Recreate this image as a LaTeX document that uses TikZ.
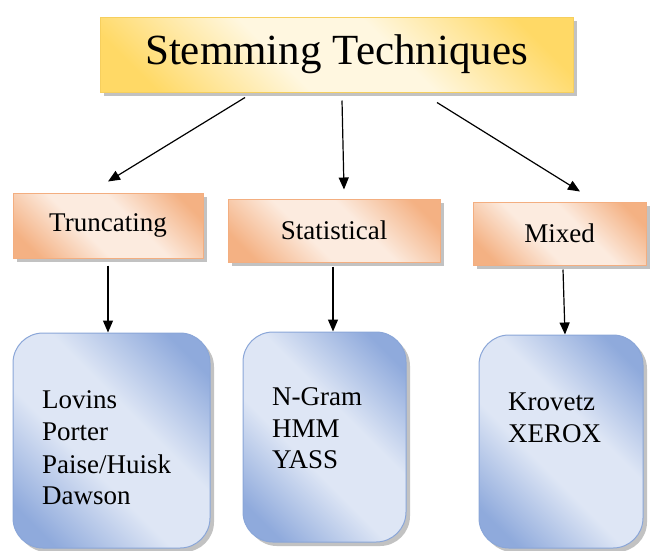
\documentclass[tikz,border=0pt]{standalone}
\usepackage{fontspec}
\setmainfont{Liberation Serif}
\usetikzlibrary{arrows.meta,shadows}
\definecolor{goldD}{HTML}{FFD966}
\definecolor{goldL}{HTML}{FFF7E0}
\definecolor{goldB}{HTML}{F6CF5E}
\definecolor{orgD}{HTML}{F4B183}
\definecolor{orgL}{HTML}{FCEBDF}
\definecolor{orgB}{HTML}{F3AE80}
\definecolor{bluD}{HTML}{8FAADC}
\definecolor{bluL}{HTML}{DEE6F5}
\definecolor{bluB}{HTML}{8AA6D8}
\pgfdeclareverticalshading{goldshade}{100bp}{color(0bp)=(goldD); color(22bp)=(goldD); color(42bp)=(goldL); color(58bp)=(goldL); color(78bp)=(goldD); color(100bp)=(goldD)}
\pgfdeclareverticalshading{orgshade}{100bp}{color(0bp)=(orgD); color(22bp)=(orgD); color(42bp)=(orgL); color(58bp)=(orgL); color(78bp)=(orgD); color(100bp)=(orgD)}
\pgfdeclareverticalshading{blushade}{100bp}{color(0bp)=(bluD); color(22bp)=(bluD); color(42bp)=(bluL); color(58bp)=(bluL); color(78bp)=(bluD); color(100bp)=(bluD)}
\tikzset{
  shadowed/.style={drop shadow={shadow xshift=4pt, shadow yshift=-4pt, fill=black!40, opacity=0.6}},
  titlebox/.style={shadowed, draw=goldB, line width=1pt, shading=goldshade, shading angle=-45,
    inner sep=0pt, minimum width=473pt, minimum height=75pt, font=\fontsize{43}{50}\selectfont},
  catbox/.style={shadowed, draw=orgB, line width=1pt, shading=orgshade, shading angle=-45,
    inner sep=0pt, font=\fontsize{27}{32}\selectfont},
  listbox/.style={shadowed, draw=bluB, line width=1pt, rounded corners=30pt, shading=blushade, shading angle=-45,
    inner sep=0pt},
  item/.style={anchor=base west, inner sep=0pt, font=\fontsize{27}{32}\selectfont},
  arr/.style={-{Triangle[length=12pt,width=10pt]}, line width=1.2pt, black}
}
\begin{document}
\begin{tikzpicture}[x=1pt,y=-1pt]
\useasboundingbox (0,0) rectangle (652,550);
\node[titlebox] (top) at (336.5,54.5) {Stemming Techniques};
\node[catbox, minimum width=190pt, minimum height=65pt] (trunc) at (108,225.5) {Truncating};
\node[catbox, minimum width=212pt, minimum height=63pt] (stat) at (334,230.5) {Statistical};
\node[catbox, minimum width=173pt, minimum height=63pt] (mixed) at (559.5,233.5) {Mixed};
\node[listbox, minimum width=197pt, minimum height=215pt] (b1) at (111.5,440.5) {};
\node[listbox, minimum width=163pt, minimum height=210pt] (b2) at (324.5,437) {};
\node[listbox, minimum width=164pt, minimum height=213pt] (b3) at (561,441.5) {};
\node[item] (l1) at (42,408) {Lovins};
\node[item] (l2) at (42,440) {Porter};
\node[item] (l3) at (42,473) {Paise/Huisk};
\node[item] (l4) at (42,504) {Dawson};
\node[item] (m1) at (272,405) {N-Gram};
\node[item] (m2) at (272,437) {HMM};
\node[item] (m3) at (272,468) {YASS};
\node[item] (n1) at (508,410) {Krovetz};
\node[item] (n2) at (508,442) {XEROX};
\draw[arr] ([xshift=-91.5pt,yshift=-5pt]top.south) -- ([yshift=11pt]trunc.north);
\draw[arr] ([xshift=5.5pt,yshift=-8pt]top.south) -- ([xshift=10pt,yshift=9pt]stat.north);
\draw[arr] ([xshift=100.5pt,yshift=-10pt]top.south) -- ([xshift=20.5pt,yshift=10pt]mixed.north);
\draw[arr] ([yshift=-7pt]trunc.south) -- ([xshift=-3.5pt]b1.north);
\draw[arr] ([xshift=-1pt,yshift=-4pt]stat.south) -- ([xshift=8.5pt]b2.north);
\draw[arr] ([xshift=3.5pt,yshift=-4pt]mixed.south) -- ([xshift=4pt]b3.north);
\end{tikzpicture}
\end{document}
